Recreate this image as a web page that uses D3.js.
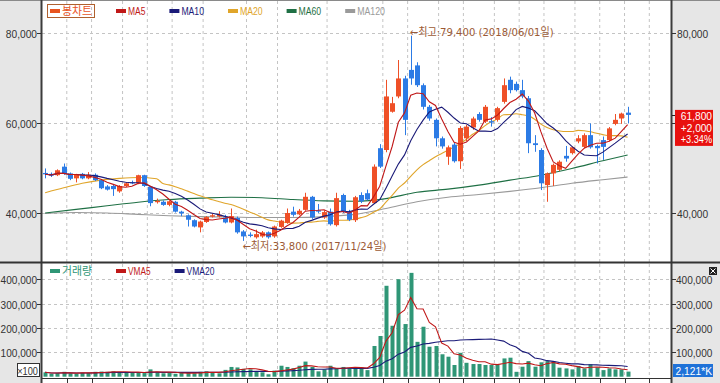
<!DOCTYPE html>
<html><head><meta charset="utf-8">
<script src="https://cdn.jsdelivr.net/npm/d3@7/dist/d3.min.js"></script>
<style>
html,body{margin:0;padding:0;background:#fff;overflow:hidden}
svg{display:block}
text{font-family:"Liberation Sans","Noto Sans CJK KR",sans-serif}
</style></head><body>
<svg id="chart" width="720" height="383"></svg>
<script>
// ---------- DATA (weekly candles) ----------
const dates = ["2017-04-07","2017-04-14","2017-04-21","2017-04-28","2017-05-05","2017-05-12","2017-05-19","2017-05-26","2017-06-02","2017-06-09",
"2017-06-16","2017-06-23","2017-06-30","2017-07-07","2017-07-14","2017-07-21","2017-07-28","2017-08-04","2017-08-11","2017-08-18",
"2017-08-25","2017-09-01","2017-09-08","2017-09-15","2017-09-22","2017-09-29","2017-10-13","2017-10-20","2017-10-27","2017-11-03",
"2017-11-10","2017-11-17","2017-11-24","2017-12-01","2017-12-08","2017-12-15","2017-12-22","2017-12-29","2018-01-05","2018-01-12",
"2018-01-19","2018-01-26","2018-02-02","2018-02-09","2018-02-16","2018-02-23","2018-03-02","2018-03-09","2018-03-16","2018-03-23",
"2018-03-30","2018-04-06","2018-04-13","2018-04-20","2018-04-27","2018-05-04","2018-05-11","2018-05-18","2018-05-25","2018-06-01",
"2018-06-08","2018-06-15","2018-06-22","2018-06-29","2018-07-06","2018-07-13","2018-07-20","2018-07-27","2018-08-03","2018-08-10",
"2018-08-17","2018-08-24","2018-08-31","2018-09-07","2018-09-14","2018-09-21","2018-09-28","2018-10-05","2018-10-12","2018-10-19",
"2018-10-26","2018-11-02","2018-11-09","2018-11-16","2018-11-23","2018-11-30","2018-12-07","2018-12-14","2018-12-21","2018-12-28",
"2019-01-04","2019-01-11","2019-01-18","2019-01-25","2019-02-01"];
const opens = [48900,48700,48400,50300,48800,47700,48700,47700,48500,47300,
45900,46000,44800,46000,46800,46700,48400,45800,42400,42500,
41800,42500,40300,39500,38400,36800,38000,39200,39200,39000,
37900,38900,35900,35200,34600,34800,35700,34800,36900,37800,
40300,39700,40700,43600,40600,39000,40300,37300,44000,40400,
38400,44000,44400,42200,54400,54000,62500,65900,69900,71800,
72800,68400,63600,60700,56600,52500,55200,51500,56600,59000,
62000,60300,60400,60700,64700,69600,68700,67300,65500,55500,
54000,46200,48800,49600,52700,53300,55900,54700,57300,54900,
56200,56200,59800,61000,62300];
const highs = [49900,49000,49700,51000,49000,48700,48900,49100,48800,47500,
46200,46300,46200,46900,47200,48500,48500,46000,43200,42800,
42800,42700,40500,39700,38600,38300,39300,39900,40400,39600,
41000,39200,36200,35700,36300,36000,35900,37200,38500,41000,
41400,40900,44500,43800,42000,40600,41000,44500,44300,40700,
43800,44600,45200,50800,55300,69600,65800,74000,70500,79400,
73500,68800,64000,61000,57000,55000,55600,59300,59600,61400,
62400,64000,61300,63600,69900,70300,69200,69600,66000,57300,
54400,49000,51000,51700,54900,54800,57300,57700,59900,55200,
57000,59100,62000,62300,63600];
const lows = [47700,48000,48200,48500,47300,46800,47500,47500,47100,45300,
45000,43800,44500,45800,46400,46400,45800,41500,42100,41600,
41500,40100,39300,37000,36800,35700,37800,39000,39000,37700,
37700,35400,33800,34600,34300,34500,34300,34500,36700,37600,
39200,39500,40500,38700,40000,38700,37200,37000,40000,38200,
38000,42200,42800,42000,50000,53500,62300,65500,57300,68500,
68000,63000,60500,54800,54300,50700,51200,49800,56000,58500,
60300,60000,59200,60300,64300,66600,67000,65500,53300,53600,
45100,42500,46000,49300,51400,53000,55500,54400,54300,51000,
51800,55900,59500,59800,59900];
const closes = [48600,48300,49500,48800,47600,48500,47700,48500,47300,45500,
45200,45300,46000,46600,46600,48400,46000,42200,42700,41800,
42600,40300,39900,38500,37000,38100,39100,39500,39600,37900,
39300,35700,34800,34900,35300,35700,34600,37000,38300,40000,
39600,40500,43600,39000,40300,40200,37500,43300,40300,38500,
43500,42600,43000,50300,50300,65900,64400,69900,60700,69900,
68400,63600,61000,56600,54800,54600,51500,58900,59200,61000,
60700,63600,60100,63300,68400,67300,67300,65900,55500,55100,
46600,48800,50700,51400,52100,54600,56600,57300,54600,54400,
54700,58800,60700,62100,61800];
const volumes = [18000,12000,15000,20000,14000,13000,16000,15000,20000,21000,
20000,22000,20000,18000,16000,17000,15000,30000,20000,14000,
15000,12000,16000,17000,14000,20000,22000,18000,14000,28000,
40000,38000,32000,30000,22000,18000,10000,25000,45000,40000,
35000,45000,62000,40000,22000,30000,45000,35000,40000,35000,
38000,38000,27000,126000,167000,373000,209000,400000,216000,426000,
143000,205000,123000,126000,92000,82000,48000,98000,57000,52000,
52000,48000,48000,48000,75000,78000,20000,41000,64000,41000,
59000,64000,62000,37000,34000,30000,44000,34000,51000,38000,
27000,34000,30000,30000,21000];
const ma20HeadIdx = [0,3,6,9,12,15,18];
const ma20HeadVal = [44500,45600,46600,47300,47700,47900,47600];
const maLongIdx = [0,5,10,15,20,25,30,35,40,45,50,55,60,65,70,75,80,85,90,94];
const ma60Val  = [40000,40800,41600,42400,43000,43300,43500,43400,43000,42700,42600,43200,44600,45300,46200,47300,48400,49900,51600,52900];
const ma120Val = [39900,40100,40000,39700,39400,39200,39100,39000,39000,39200,39700,41000,42500,43500,44100,44800,45600,46600,47400,48000];
const priceTicks = [40000,60000,80000];
const volTicks = [100000,200000,300000,400000];
const gridMonths = ["2017-05","2017-06","2017-07","2017-08","2017-09","2017-10","2017-12","2018-01","2018-03","2018-05","2018-06","2018-07","2018-08","2018-09","2018-10","2018-11","2018-12","2019-01","2019-02","2019-03"];
const priceLegendLabels = ["봉차트","MA5","MA10","MA20","MA60","MA120"];
const priceLegendColors = ["#e8541f","#c01818","#1a1a78","#e0a52a","#1f7045","#9a9a9a"];
const volLegendLabels = ["거래량","VMA5","VMA20"];
const volLegendColors = ["#2f9676","#c01818","#1a1a78"];
const highLabel = "←최고:79,400 (2018/06/01일)";
const lowLabel = "←최저:33,800 (2017/11/24일)";
const lastInfo = ["61,800","+2,000","+3.34%"];
const lastVolLabel = "2,121*K";
const volUnitLabel = "×100";

// ---------- LAYOUT ----------
const W = 720, H = 383;
const plotL = 42, plotR = 671;
const priceTop = 1, priceBot = 262;
const volTop = 264, volBase = 376.7;
const upColor = "#ef5027", downColor = "#2c7be5";
const gridColor = "#c4c4c4";

const svg = d3.select("#chart");
const parse = d3.timeParse("%Y-%m-%d");
const dts = dates.map(parse);
const n = dates.length;

const x = d3.scaleLinear().domain([-0.5, 101]).range([plotL, plotR]);
const step = x(1) - x(0);
const y = d3.scaleLinear().domain([40000, 80000]).range([213, 33]);
const yv = d3.scaleLinear().domain([0, 400000]).range([volBase, 279.2]);

// text helper: width-controlled to mimic the narrow bitmap font
function charW(s){ let w=0; for(const ch of s){ const c=ch.codePointAt(0); if(c>=0xAC00&&c<=0xD7A3) w+=10; else if(ch==="←") w+=10; else if(ch==="M") w+=7; else w+=5.2; } return w; }
function txt(g, xp, yp, s, color, anchor, size, family){
  const t = g.append("text").attr("x", xp).attr("y", yp).attr("fill", color||"#333")
    .attr("font-size", (size||11)+"px").attr("text-anchor", anchor||"start")
    .attr("dominant-baseline","central").text(s);
  if (family) t.style("font-family", family);
  t.attr("textLength", charW(s)).attr("lengthAdjust","spacingAndGlyphs");
  return t;
}

// backgrounds
svg.append("rect").attr("width",W).attr("height",H).attr("fill","#fff");
svg.append("rect").attr("x",0).attr("y",0).attr("width",plotL).attr("height",H).attr("fill","#e6e6e6");
svg.append("rect").attr("x",plotR).attr("y",0).attr("width",W-plotR).attr("height",H).attr("fill","#e6e6e6");
svg.append("line").attr("x1",0).attr("x2",W).attr("y1",0.5).attr("y2",0.5).attr("stroke","#8a8a8a");

// month grid positions (left edge of the week holding the month start)
const lastDate = dts[n-1];
function monthIndex(m){
  const d0 = parse(m+"-01");
  let i = dts.findIndex(d => d >= d0);
  if (i < 0) { const weeks = Math.ceil((d0 - lastDate)/(7*864e5)); i = n-1+weeks; }
  return i;
}
const gridX = gridMonths.map(m => x(monthIndex(m) - 0.5));

const grid = svg.append("g");
gridX.forEach(gx => {
  grid.append("line").attr("x1",gx).attr("x2",gx).attr("y1",priceTop).attr("y2",priceBot)
    .attr("stroke",gridColor).attr("stroke-dasharray","3,3");
  grid.append("line").attr("x1",gx).attr("x2",gx).attr("y1",volTop).attr("y2",volBase)
    .attr("stroke",gridColor).attr("stroke-dasharray","3,3");
});
priceTicks.forEach(v => grid.append("line").attr("x1",plotL).attr("x2",plotR).attr("y1",Math.round(y(v))+0.5).attr("y2",Math.round(y(v))+0.5)
  .attr("stroke",gridColor).attr("stroke-dasharray","3,3"));
volTicks.forEach(v => grid.append("line").attr("x1",plotL).attr("x2",plotR).attr("y1",Math.round(yv(v))+0.5).attr("y2",Math.round(yv(v))+0.5)
  .attr("stroke",gridColor).attr("stroke-dasharray","3,3"));

// ---------- moving averages ----------
function sma(arr, k){ return arr.map((_,i)=> d3.mean(arr.slice(Math.max(0,i-k+1), i+1))); }
const ma5 = sma(closes,5).map((v,i)=>[i,v]);
const ma10 = sma(closes,10).map((v,i)=>[i,v]);
const ma20full = sma(closes,20);
const ma20 = ma20HeadIdx.map((i,k)=>[i, ma20HeadVal[k]]).concat(d3.range(19,n).map(i=>[i, ma20full[i]]));
const ma60 = maLongIdx.map((i,k)=>[i, ma60Val[k]]);
const ma120 = maLongIdx.map((i,k)=>[i, ma120Val[k]]);

svg.append("clipPath").attr("id","pc").append("rect").attr("x",plotL).attr("y",priceTop).attr("width",plotR-plotL).attr("height",priceBot-priceTop);
const pg = svg.append("g").attr("clip-path","url(#pc)");

const lineLin = d3.line().x(d=>x(d[0])).y(d=>y(d[1]));
const lineSm = d3.line().x(d=>x(d[0])).y(d=>y(d[1])).curve(d3.curveMonotoneX);
pg.append("path").attr("d",lineSm(ma120)).attr("fill","none").attr("stroke",priceLegendColors[5]).attr("stroke-width",1.1);
pg.append("path").attr("d",lineSm(ma60)).attr("fill","none").attr("stroke",priceLegendColors[4]).attr("stroke-width",1.1);
pg.append("path").attr("d",lineSm(ma20)).attr("fill","none").attr("stroke",priceLegendColors[3]).attr("stroke-width",1.1);

// candles
const cw = Math.max(3, Math.round(step*0.8));
const cg = pg.append("g");
d3.range(n).forEach(i => {
  const up = closes[i] >= opens[i];
  const col = up ? upColor : downColor;
  const cx = Math.round(x(i)) + 0.5;
  cg.append("line").attr("x1",cx).attr("x2",cx).attr("y1",y(highs[i])).attr("y2",y(lows[i])).attr("stroke",col).attr("stroke-width",1);
  const top = y(Math.max(opens[i],closes[i])), bot = y(Math.min(opens[i],closes[i]));
  cg.append("rect").attr("x",cx-cw/2).attr("y",top).attr("width",cw).attr("height",Math.max(1,bot-top)).attr("fill",col);
});

pg.append("path").attr("d",lineLin(ma10)).attr("fill","none").attr("stroke",priceLegendColors[2]).attr("stroke-width",1.1);
pg.append("path").attr("d",lineLin(ma5)).attr("fill","none").attr("stroke",priceLegendColors[1]).attr("stroke-width",1.1);

// high / low annotations
const hiI = highs.indexOf(d3.max(highs)), loI = lows.indexOf(d3.min(lows));
const annFont = '"DejaVu Sans","Noto Sans CJK KR",sans-serif';
txt(svg, x(hiI)-1, y(highs[hiI])-3, highLabel, "#9c5a35", "start", 11, annFont);
txt(svg, x(loI)-1, y(lows[loI])+6, lowLabel, "#9c5a35", "start", 11, annFont);

// ---------- volume ----------
svg.append("clipPath").attr("id","vc").append("rect").attr("x",plotL).attr("y",volTop).attr("width",plotR-plotL).attr("height",volBase-volTop+1);
const vg = svg.append("g").attr("clip-path","url(#vc)");
const bw = Math.max(2, Math.round(step*0.7));
d3.range(n).forEach(i => {
  const cx = Math.round(x(i)) + 0.5;
  vg.append("rect").attr("x",cx-bw/2).attr("y",yv(volumes[i])).attr("width",bw).attr("height",volBase-yv(volumes[i])).attr("fill","#2f9676");
});
const vma5 = sma(volumes,5).map((v,i)=>[i,v]);
const vma20 = sma(volumes,20).map((v,i)=>[i,v]);
const vline = d3.line().x(d=>x(d[0])).y(d=>yv(d[1]));
vg.append("path").attr("d",vline(vma20)).attr("fill","none").attr("stroke",volLegendColors[2]).attr("stroke-width",1.1);
vg.append("path").attr("d",vline(vma5)).attr("fill","none").attr("stroke",volLegendColors[1]).attr("stroke-width",1.1);

// ---------- frame lines ----------
svg.append("line").attr("x1",plotL-0.5).attr("x2",plotL-0.5).attr("y1",0).attr("y2",H).attr("stroke","#3c3c3c").attr("stroke-width",2);
svg.append("line").attr("x1",plotR+0.5).attr("x2",plotR+0.5).attr("y1",0).attr("y2",H).attr("stroke","#3c3c3c").attr("stroke-width",2);
svg.append("line").attr("x1",0).attr("x2",W).attr("y1",priceBot+0.5).attr("y2",priceBot+0.5).attr("stroke","#333").attr("stroke-width",2);
svg.append("line").attr("x1",plotL).attr("x2",plotR).attr("y1",378.5).attr("y2",378.5).attr("stroke","#333").attr("stroke-width",1);
gridX.forEach(gx => svg.append("line").attr("x1",Math.round(gx)+0.5).attr("x2",Math.round(gx)+0.5).attr("y1",378).attr("y2",H).attr("stroke","#333"));

// ---------- axes labels ----------
const fmt = d3.format(",");
const lastY = y(closes[n-1]);
const boxTop = lastY - 5, boxH = 36;
priceTicks.forEach(v => {
  const yy = Math.round(y(v))+0.5;
  svg.append("line").attr("x1",plotL-5).attr("x2",plotL-1).attr("y1",yy).attr("y2",yy).attr("stroke","#333");
  svg.append("line").attr("x1",plotR+1).attr("x2",plotR+5).attr("y1",yy).attr("y2",yy).attr("stroke","#333");
  txt(svg, plotL-5, yy, fmt(v), "#333", "end");
  // right label is hidden behind the current-price box when they collide
  if (yy < boxTop - 6 || yy > boxTop + boxH + 6) txt(svg, plotR+6, yy, fmt(v), "#333", "start");
});
volTicks.forEach(v => {
  const yy = Math.round(yv(v))+0.5;
  svg.append("line").attr("x1",plotL-5).attr("x2",plotL-1).attr("y1",yy).attr("y2",yy).attr("stroke","#333");
  svg.append("line").attr("x1",plotR+1).attr("x2",plotR+5).attr("y1",yy).attr("y2",yy).attr("stroke","#333");
  txt(svg, plotL-5, yy, fmt(v), "#333", "end");
  txt(svg, plotR+5, yy, fmt(v), "#333", "start");
});

// last price box
svg.append("line").attr("x1",plotR+1).attr("x2",plotR+5).attr("y1",Math.round(lastY)+0.5).attr("y2",Math.round(lastY)+0.5).attr("stroke","#222");
svg.append("rect").attr("x",plotR+4).attr("y",boxTop).attr("width",38).attr("height",boxH).attr("fill","#e8110f");
lastInfo.forEach((s,k) => txt(svg, plotR+41, lastY+1.5+k*11.7, s, "#fff", "end", 10, '"Liberation Sans",sans-serif'));

// last volume box
svg.append("rect").attr("x",plotR+2).attr("y",364).attr("width",40).attr("height",13).attr("fill","#1f72d8");
txt(svg, plotR+41, 370.5, lastVolLabel, "#fff", "end", 10.5);
// close button
svg.append("rect").attr("x",709).attr("y",267).attr("width",8).attr("height",8).attr("fill","#222");
svg.append("path").attr("d","M710.5,268.5L715.5,273.5M715.5,268.5L710.5,273.5").attr("stroke","#fff").attr("stroke-width",1);

// unit box
svg.append("rect").attr("x",17.5).attr("y",363.5).attr("width",22).attr("height",13).attr("fill","#fff").attr("stroke","#333");
txt(svg, 38, 370.5, volUnitLabel, "#333", "end", 10.5);

// ---------- legends ----------
function legend(labels, colors, yy, boxFirst){
  let cx = 50;
  labels.forEach((s,k) => {
    svg.append("rect").attr("x",cx).attr("y",yy-2).attr("width",10).attr("height",4).attr("fill",colors[k]);
    txt(svg, cx+12, yy, s, colors[k], "start");
    const w = charW(s);
    if (boxFirst && k===0) svg.append("rect").attr("x",cx-2.5).attr("y",yy-6.5).attr("width",w+17).attr("height",13).attr("fill","none").attr("stroke","#b0602e");
    cx += 12 + w + 24;
  });
}
legend(priceLegendLabels, priceLegendColors, 11, true);
legend(volLegendLabels, volLegendColors, 271, false);
</script>
</body></html>
